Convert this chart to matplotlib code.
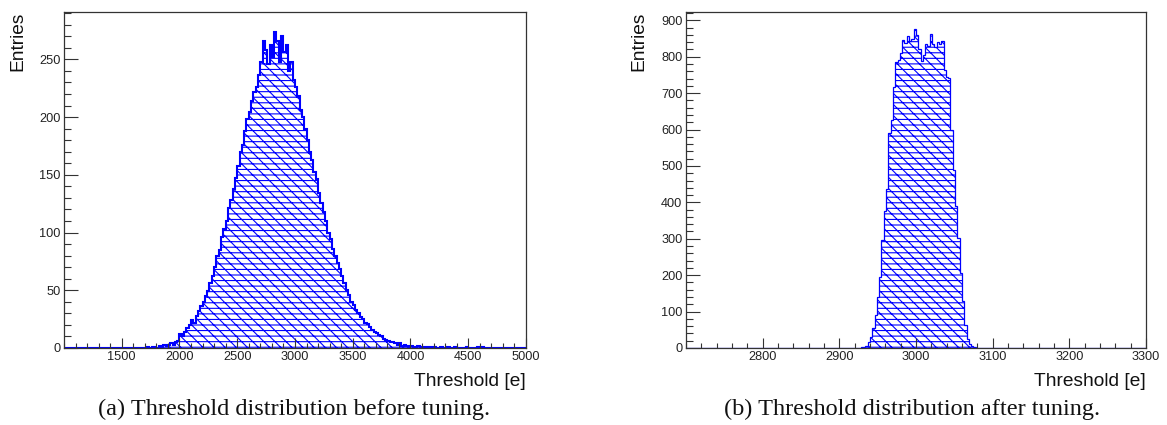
#!/usr/bin/env python3
"""Threshold distribution before / after tuning, ROOT-style hatched histograms."""
import matplotlib
matplotlib.use("Agg")
import matplotlib.pyplot as plt
from matplotlib.ticker import MultipleLocator

# --------------------------------------------------------------------------- #
# Data
# --------------------------------------------------------------------------- #
# (a) before tuning: 20 e wide bins, first listed bin starts at 1700 e
before_start = 1700
before_width = 20
before_counts = [
    0, 1, 0, 1, 1,          0, 2, 1, 3, 2,
    3, 4, 3, 5, 6,          12, 10, 14, 17, 20,
    24, 22, 28, 32, 36,     40, 45, 49, 56, 62,
    70, 80, 85, 96, 103,    110, 121, 128, 138, 147,
    158, 170, 176, 188, 198,  204, 214, 222, 226, 236,
    248, 266, 258, 246, 262,  252, 274, 266, 248, 270,
    256, 262, 240, 248, 232,  226, 218, 206, 200, 190,
    180, 170, 163, 152, 146,  134, 126, 118, 110, 100,
    94, 86, 80, 74, 68,     62, 56, 50, 46, 40,
    37, 33, 30, 27, 25,     22, 21, 18, 16, 14,
    13, 11, 10, 8, 7,       6, 5, 5, 4, 3,
    4, 2, 3, 2, 1,          2, 1, 1, 2, 1,
    0, 1, 1, 0, 1,          1, 0, 0, 1, 0,
    0, 1, 0, 0, 1,          0, 0, 0, 0, 1,
    0, 0, 0, 0, 1,          0, 1, 0, 0, 0,
]
before_range = (1000, 5000)
before_ylim = 291
before_xticks = [1500, 2000, 2500, 3000, 3500, 4000, 4500, 5000]
before_yticks = [0, 50, 100, 150, 200, 250]

# (b) after tuning: 3 e wide bins, first listed bin starts at 2925 e
after_start = 2925
after_width = 3
after_counts = [
    1, 2, 3, 6, 17, 30, 54, 91, 141, 196,
    297, 375, 438, 590, 626, 716, 786, 792, 809, 847,
    838, 856, 842, 848, 876, 860, 822, 788, 806, 836,
    830, 862, 836, 826, 840, 836, 842, 765, 745, 742,
    600, 490, 390, 303, 207, 130, 62, 25, 12, 5,
    2, 1,
]
after_range = (2700, 3300)
after_ylim = 923
after_xticks = [2800, 2900, 3000, 3100, 3200, 3300]
after_yticks = [0, 100, 200, 300, 400, 500, 600, 700, 800, 900]

captions = ["(a) Threshold distribution before tuning.",
            "(b) Threshold distribution after tuning."]
xlabel = "Threshold [e]"
ylabel = "Entries"

FRAME = "#333333"
BLUE = "#0000ff"


def full_hist(start, width, counts, lo, hi):
    """Pad the listed bins with empty ones over the whole axis range."""
    n_before = round((start - lo) / width)
    n_total = round((hi - lo) / width)
    values = [0] * n_before + list(counts)
    values += [0] * (n_total - len(values))
    edges = [lo + i * width for i in range(n_total + 1)]
    return values, edges


def draw_panel(ax, start, width, counts, xrange_, ylim, xticks, yticks,
               xminor, yminor, lw):
    values, edges = full_hist(start, width, counts, *xrange_)
    # hatched body (hatch colour follows the edge colour)
    ax.stairs(values, edges, fill=True, facecolor="none", edgecolor=BLUE,
              hatch="\\\\\\---", linewidth=0)
    ax.stairs(values, edges, color=BLUE, linewidth=lw)

    ax.set_xlim(*xrange_)
    ax.set_ylim(0, ylim)
    ax.set_xticks(xticks)
    ax.set_yticks(yticks)
    ax.xaxis.set_minor_locator(MultipleLocator(xminor))
    ax.yaxis.set_minor_locator(MultipleLocator(yminor))

    ax.tick_params(which="both", direction="in", top=False, right=False,
                   color=FRAME, width=0.8, labelsize=9.2, labelcolor="#222222")
    ax.tick_params(axis="x", which="major", length=7.2, pad=2.5)
    ax.tick_params(axis="x", which="minor", length=3.6)
    ax.tick_params(axis="y", which="major", length=10, pad=2.5)
    ax.tick_params(axis="y", which="minor", length=5)
    for s in ax.spines.values():
        s.set_color(FRAME)
        s.set_linewidth(0.9)

    ax.text(1.0, -0.113, xlabel, transform=ax.transAxes, ha="right",
            va="baseline", fontsize=13.8, color="#111111")


def main():
    plt.rcParams["font.family"] = ["Liberation Sans", "DejaVu Sans"]
    plt.rcParams["hatch.linewidth"] = 0.8

    fig = plt.figure(figsize=(11.67, 4.25), dpi=100)
    ax_a = fig.add_axes([0.0548, 0.1812, 0.3959, 0.7906])
    ax_b = fig.add_axes([0.5878, 0.1812, 0.3942, 0.7906])

    draw_panel(ax_a, before_start, before_width, before_counts, before_range,
               before_ylim, before_xticks, before_yticks, 100, 10, 1.5)
    draw_panel(ax_b, after_start, after_width, after_counts, after_range,
               after_ylim, after_xticks, after_yticks, 20, 20, 0.9)

    ax_a.text(-0.0996, 1.0, ylabel, transform=ax_a.transAxes, rotation=90,
              ha="center", va="top", fontsize=13.8, color="#111111")
    ax_b.text(-0.102, 1.0, ylabel, transform=ax_b.transAxes, rotation=90,
              ha="center", va="top", fontsize=13.8, color="#111111")

    for xc, cap in zip([0.2519, 0.7815], captions):
        fig.text(xc, 0.0235, cap, ha="center", va="baseline", fontsize=17.5,
                 family=["Liberation Serif", "DejaVu Serif"], color="#111111")

    fig.savefig("out.png", dpi=100)


if __name__ == "__main__":
    main()
